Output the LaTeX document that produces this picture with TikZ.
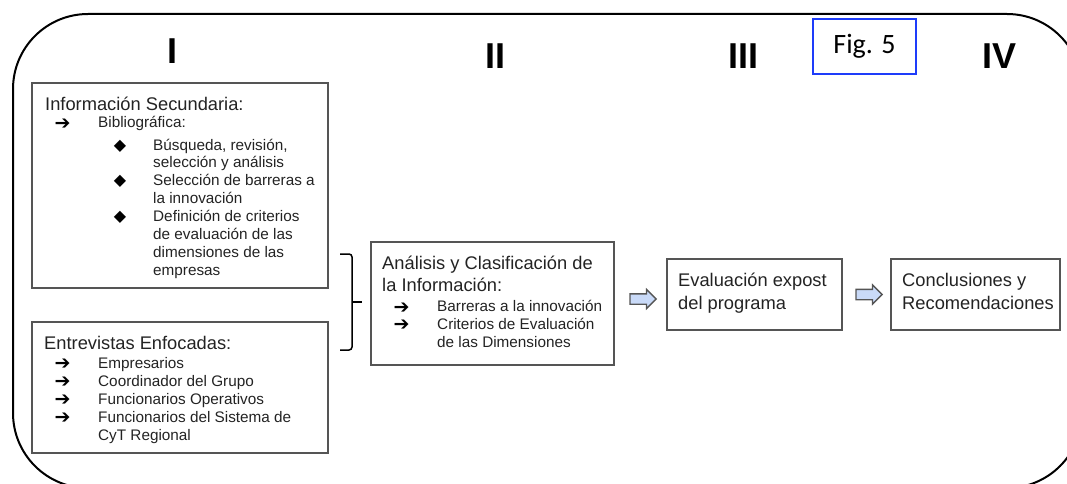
\documentclass[tikz,border=0pt]{standalone}
\usepackage{fontspec}
\usepackage{xcolor}
\usepackage{tikz}
\usetikzlibrary{shapes.arrows, calc}
\setmainfont{Liberation Sans}
\newfontfamily\symfont{DejaVu Sans}
\newfontfamily\figfont{Carlito}
\definecolor{boxgray}{RGB}{85,85,85}
\definecolor{txtgray}{RGB}{35,35,35}
\definecolor{figblue}{RGB}{30,60,250}
\definecolor{arrowblue}{RGB}{201,218,248}
\newcommand{\headsize}{\fontsize{18.3}{22}\selectfont}
\newcommand{\itemsize}{\fontsize{15.3}{18}\selectfont}
\newcommand{\arr}{{\symfont\fontsize{19}{19}\selectfont ➔}}
\newcommand{\dia}{{\symfont\fontsize{16}{16}\selectfont ◆}}

\begin{document}
\begin{tikzpicture}[x=1pt, y=-1pt,
    box/.style={draw=boxgray, line width=1.2pt, inner sep=0pt},
    head/.style={anchor=base west, inner sep=0pt, font=\headsize, text=txtgray},
    item/.style={anchor=base west, inner sep=0pt, font=\itemsize, text=txtgray},
    bul/.style={anchor=base, inner sep=0pt, text=black},
    numeral/.style={anchor=base, inner sep=0pt, font=\bfseries\fontsize{36}{36}\selectfont},
    blockarrow/.style={single arrow, draw=boxgray, fill=arrowblue, line width=1.3pt,
        minimum height=26pt, inner xsep=0pt, inner ysep=4.5pt, single arrow head extend=4.5pt}]
        \useasboundingbox (0,0) rectangle (1067,484);
        \clip (0,0) rectangle (1067,484);
        \draw[line width=2pt, rounded corners=75pt] (13,14) rectangle (1082,488);

        \node[numeral] (n1) at (172,64) {I};
        \node[numeral] (n2) at (495,69) {II};
        \node[numeral] (n3) at (743,69) {III};
        \node[numeral] (n4) at (999,69) {IV};
        \node[draw=figblue, line width=2.2pt, minimum width=103pt, minimum height=55pt, inner sep=0pt,
            font=\figfont\fontsize{28}{28}\selectfont] (fig) at (864.5,46.5) {Fig. 5};

        \node[box, minimum width=296pt, minimum height=205pt] (secund) at (180,185.5) {};
        \node[head] (h1) at (45,110.5) {Información Secundaria:};
        \node[bul] (a1) at (62.5,129) {\arr};
        \node[item] (t1) at (98,127.5) {Bibliográfica:};
        \node[bul] (d1) at (120,150) {\dia};
        \node[item] (t2) at (153,150) {Búsqueda, revisión,};
        \node[item] (t3) at (153,167.5) {selección y análisis};
        \node[bul] (d2) at (120,185) {\dia};
        \node[item] (t4) at (153,185) {Selección de barreras a};
        \node[item] (t5) at (153,203) {la innovación};
        \node[bul] (d3) at (120,221) {\dia};
        \node[item] (t6) at (153,221) {Definición de criterios};
        \node[item] (t7) at (153,239) {de evaluación de las};
        \node[item] (t8) at (153,257) {dimensiones de las};
        \node[item] (t9) at (153,275) {empresas};

        \node[box, minimum width=296pt, minimum height=131pt] (entrev) at (180,387.5) {};
        \node[head] (h2) at (44,349) {Entrevistas Enfocadas:};
        \node[bul] (a2) at (62.5,369.5) {\arr};
        \node[item] (e1) at (98,368) {Empresarios};
        \node[bul] (a3) at (62.5,387.5) {\arr};
        \node[item] (e2) at (98,386) {Coordinador del Grupo};
        \node[bul] (a4) at (62.5,405.5) {\arr};
        \node[item] (e3) at (98,404) {Funcionarios Operativos};
        \node[bul] (a5) at (62.5,423.5) {\arr};
        \node[item] (e4) at (98,422) {Funcionarios del Sistema de};
        \node[item] (e5) at (98,440) {CyT Regional};

        \coordinate (bt) at (340,254);
        \coordinate (bb) at (340,350);
        \coordinate (bm) at (362,302);
        \draw[line width=1.5pt, rounded corners=3pt] (bt) -- (352,254) -- (352,350) -- (bb);
        \draw[line width=1.5pt] (352,302) -- (bm);

        \node[box, minimum width=243pt, minimum height=123pt] (analisis) at (492.5,303.5) {};
        \node[head] (h3) at (382,269) {Análisis y Clasificación de};
        \node[head] (h4) at (382,291.5) {la Información:};
        \node[bul] (a6) at (401.5,313) {\arr};
        \node[item] (c1) at (437,311.5) {Barreras a la innovación};
        \node[bul] (a7) at (401.5,330.5) {\arr};
        \node[item] (c2) at (437,329) {Criterios de Evaluación};
        \node[item] (c3) at (437,347) {de las Dimensiones};

        \node[box, minimum width=175pt, minimum height=71pt] (expost) at (754.5,294.5) {};
        \node[head] (h5) at (678,286.7) {Evaluación expost};
        \node[head] (h6) at (678,309) {del programa};

        \node[box, minimum width=169pt, minimum height=71pt] (conclu) at (975.5,294.5) {};
        \node[head] (h7) at (902,286.7) {Conclusiones y};
        \node[head] (h8) at (902,309) {Recomendaciones};

        \node[blockarrow] (p1) at ($(analisis.east)!.5!(expost.west)$) {};
        \node[blockarrow] (p2) at ($(expost.east)!.5!(conclu.west)$) {};
\end{tikzpicture}
\end{document}
